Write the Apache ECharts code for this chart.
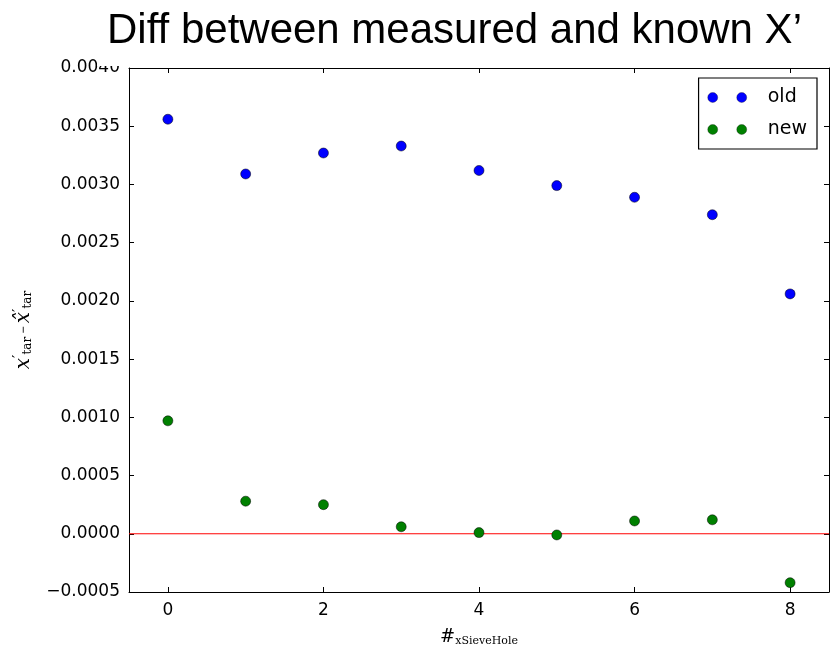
<!DOCTYPE html>
<html>
<head>
<meta charset="utf-8">
<script src="https://cdn.jsdelivr.net/npm/echarts@6/dist/echarts.min.js"></script>
<style>
  html, body { margin: 0; padding: 0; background: #fff; }
  #chart { width: 834px; height: 645px; }
</style>
</head>
<body>
<div id="chart"></div>
<script>
// sieve hole index
var holes = [0, 1, 2, 3, 4, 5, 6, 7, 8];
// x'_tar - x^'_tar
var oldDiff = [0.00356, 0.00309, 0.00327, 0.00333, 0.00312, 0.00299, 0.00289, 0.00274, 0.00206];
var newDiff = [0.00097, 0.00028, 0.00025, 0.00006, 0.00001, -0.00001, 0.00011, 0.00012, -0.00042];
var xTicks = [0, 2, 4, 6, 8];

var myChart = echarts.init(document.getElementById('chart'));

function pairs(ys) {
  return holes.map(function (x, i) { return [x, ys[i]]; });
}
function yFmt(v) {
  var s = Math.abs(v).toFixed(4);
  return v < -1e-12 ? '\u2212' + s : s;
}
// two dots in the legend, like matplotlib numpoints=2
var twoDots = 'path://M0,5a5,5 0 1,0 10,0a5,5 0 1,0 -10,0M29,5a5,5 0 1,0 10,0a5,5 0 1,0 -10,0';
var tickFont = { fontFamily: 'DejaVu Sans', fontSize: 17, color: '#000' };
var axisLineStyle = { color: '#000', width: 1 };

var options = {
  animation: false,
  title: {
    text: 'Diff between measured and known X\u2019',
    left: 97,
    top: 2,
    padding: [8, 10, 14, 10],
    backgroundColor: '#fff',
    textStyle: { fontFamily: 'Liberation Sans', fontSize: 42, fontWeight: 'normal', color: '#000' }
  },
  legend: {
    right: 17,
    top: 78,
    orient: 'vertical',
    data: [{ name: 'old', icon: twoDots }, { name: 'new', icon: twoDots }],
    itemWidth: 39,
    itemHeight: 10,
    itemGap: 13,
    itemStyle: { borderWidth: 0.3 },
    borderColor: '#000',
    borderWidth: 1.2,
    borderRadius: 0,
    padding: [10, 10, 10, 9],
    textStyle: { fontFamily: 'DejaVu Sans', fontSize: 19, color: '#000', padding: [0, 0, 0, 16] }
  },
  grid: { left: 129, right: 5, top: 68, bottom: 53, outerBoundsMode: 'none' },
  xAxis: [{
    type: 'value',
    min: -0.5,
    max: 8.5,
    name: '{h|#}{s|xSieveHole}',
    nameLocation: 'middle',
    nameGap: 36,
    nameTextStyle: {
      rich: {
        h: { fontFamily: 'DejaVu Serif', fontSize: 18, color: '#000' },
        s: { fontFamily: 'DejaVu Serif', fontSize: 11, color: '#000', padding: [8, 0, 0, 0] }
      }
    },
    axisLine: { onZero: false, lineStyle: axisLineStyle },
    axisTick: { inside: true, length: 5, customValues: xTicks, lineStyle: axisLineStyle },
    axisLabel: Object.assign({ customValues: xTicks, margin: 10 }, tickFont),
    splitLine: { show: false }
  }, {
    type: 'value',
    position: 'top',
    min: -0.5,
    max: 8.5,
    axisLine: { onZero: false, lineStyle: axisLineStyle },
    axisTick: { inside: true, length: 5, customValues: xTicks, lineStyle: axisLineStyle },
    axisLabel: { show: false },
    splitLine: { show: false }
  }],
  yAxis: [{
    type: 'value',
    min: -0.0005,
    max: 0.0040,
    interval: 0.0005,
    name: '{i|x}{p|\u2032}{s|tar} \u2212 {i|x\u0302}{p|\u2032}{s|tar}',
    nameLocation: 'middle',
    nameGap: 94,
    nameRotate: 90,
    nameTextStyle: {
      rich: {
        i: { fontFamily: 'DejaVu Serif', fontStyle: 'italic', fontSize: 20, color: '#000' },
        p: { fontFamily: 'DejaVu Serif', fontSize: 15, color: '#000', padding: [0, 0, 8, 0] },
        s: { fontFamily: 'DejaVu Serif', fontSize: 12, color: '#000', padding: [8, 0, 0, 0] }
      }
    },
    axisLine: { onZero: false, lineStyle: axisLineStyle },
    axisTick: { inside: true, length: 5, lineStyle: axisLineStyle },
    axisLabel: Object.assign({ formatter: yFmt, margin: 9 }, tickFont),
    splitLine: { show: false }
  }, {
    type: 'value',
    position: 'right',
    min: -0.0005,
    max: 0.0040,
    interval: 0.0005,
    axisLine: { onZero: false, lineStyle: axisLineStyle },
    axisTick: { inside: true, length: 5, lineStyle: axisLineStyle },
    axisLabel: { show: false },
    splitLine: { show: false }
  }],
  series: [
    {
      name: 'zero',
      type: 'line',
      data: [[-0.5, 0], [8.5, 0]],
      symbol: 'none',
      silent: true,
      lineStyle: { color: '#ff0000', width: 1 },
      z: 1
    },
    {
      name: 'old',
      type: 'scatter',
      data: pairs(oldDiff),
      symbolSize: 10,
      itemStyle: { color: '#0000ff', opacity: 1, borderColor: '#000', borderWidth: 0.5 },
      z: 3
    },
    {
      name: 'new',
      type: 'scatter',
      data: pairs(newDiff),
      symbolSize: 10,
      itemStyle: { color: '#008000', opacity: 1, borderColor: '#000', borderWidth: 0.5 },
      z: 3
    }
  ]
};
myChart.setOption(options);
</script>
</body>
</html>
